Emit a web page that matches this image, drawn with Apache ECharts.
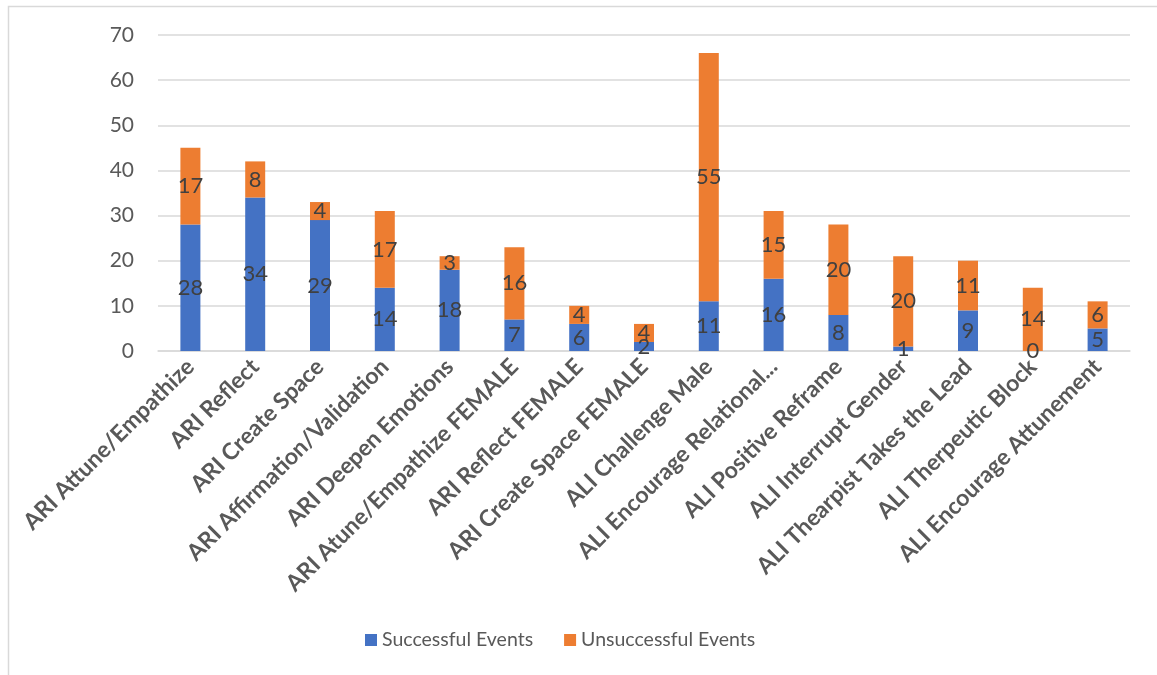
<!DOCTYPE html>
<html>
<head>
<meta charset="utf-8">
<script src="https://cdn.jsdelivr.net/npm/echarts@6/dist/echarts.min.js"></script>
<style>
  html, body { margin: 0; padding: 0; background: #fff; }
  #chart { width: 1157px; height: 675px; }
</style>
</head>
<body>
<div id="chart"></div>
<script>
// Event categories along the x axis
const categories = [
  'ARI Attune/Empathize',
  'ARI Reflect',
  'ARI Create Space',
  'ARI Affirmation/Validation',
  'ARI Deepen Emotions',
  'ARI Atune/Empathize FEMALE',
  'ARI Reflect FEMALE',
  'ARI Create Space FEMALE',
  'ALI Challenge Male',
  'ALI Encourage Relational...',
  'ALI Positive Reframe',
  'ALI Interrupt Gender',
  'ALI Thearpist Takes the Lead',
  'ALI Therpeutic Block',
  'ALI Encourage Attunement'
];

// Counts per category
const successful = [28, 34, 29, 14, 18, 7, 6, 2, 11, 16, 8, 1, 9, 0, 5];
const unsuccessful = [17, 8, 4, 17, 3, 16, 4, 4, 55, 15, 20, 20, 11, 14, 6];

const seriesNames = ['Successful Events', 'Unsuccessful Events'];
const yTicks = { min: 0, max: 70, interval: 10 };

const FONT = 'Lato, "Open Sans", sans-serif';

const chart = echarts.init(document.getElementById('chart'), null, { renderer: 'canvas' });

const labelStyle = {
  show: true,
  position: 'inside',
  color: '#404040',
  fontSize: 22,
  fontFamily: FONT
};

chart.setOption({
  animation: false,
  backgroundColor: '#ffffff',
  graphic: [{
    type: 'rect',
    shape: { x: 8.5, y: 6.5, width: 1300, height: 800 },
    style: { fill: 'none', stroke: '#d9d9d9', lineWidth: 1.5 },
    silent: true,
    z: -1
  }],
  grid: { left: 158, right: 27, top: 35, bottom: 324, containLabel: false },
  legend: {
    bottom: 20,
    left: 360,
    itemWidth: 12,
    itemHeight: 12,
    itemGap: 31,
    icon: 'rect',
    textStyle: { color: '#595959', fontSize: 19.5, fontFamily: FONT },
    data: seriesNames
  },
  xAxis: {
    type: 'category',
    data: categories,
    axisLine: { lineStyle: { color: '#d9d9d9', width: 1.5 } },
    axisTick: { show: false },
    axisLabel: {
      interval: 0,
      rotate: 45,
      margin: 12,
      color: '#595959',
      fontSize: 23,
      fontWeight: 'bold',
      fontFamily: FONT
    }
  },
  yAxis: {
    type: 'value',
    min: yTicks.min,
    max: yTicks.max,
    interval: yTicks.interval,
    axisLine: { show: false },
    axisTick: { show: false },
    splitLine: { lineStyle: { color: '#d9d9d9', width: 1.5 } },
    axisLabel: { color: '#595959', fontSize: 21, margin: 24, fontFamily: FONT }
  },
  series: [
    {
      name: seriesNames[0],
      type: 'bar',
      stack: 'total',
      barWidth: 20,
      itemStyle: { color: '#4472c4' },
      label: labelStyle,
      data: successful
    },
    {
      name: seriesNames[1],
      type: 'bar',
      stack: 'total',
      barWidth: 20,
      itemStyle: { color: '#ed7d31' },
      label: labelStyle,
      data: unsuccessful
    }
  ]
});
</script>
</body>
</html>
